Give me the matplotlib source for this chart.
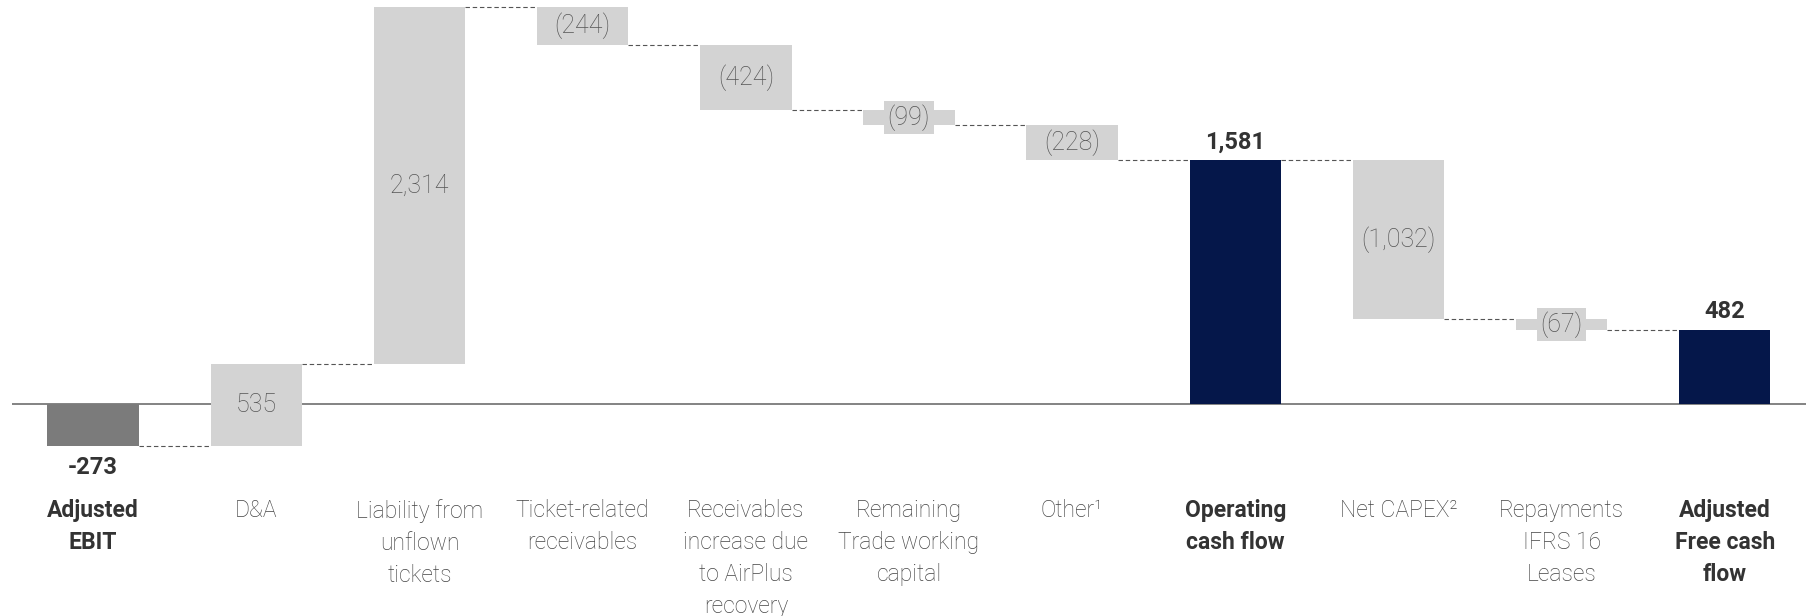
import numpy as np
import matplotlib
matplotlib.use('Agg')
import matplotlib.pyplot as plt

plt.rcParams['font.family'] = ['Roboto', 'DejaVu Sans']

# cash flow bridge, EUR m
categories = ['Adjusted\nEBIT', 'D&A', 'Liability from\nunflown\ntickets',
              'Ticket-related\nreceivables', 'Receivables\nincrease due\nto AirPlus\nrecovery',
              'Remaining\nTrade working\ncapital', 'Other\u00b9', 'Operating\ncash flow',
              'Net CAPEX\u00b2', 'Repayments\nIFRS 16\nLeases', 'Adjusted\nFree cash\nflow']
values = [-273, 535, 2314, -244, -424, -99, -228, 1581, -1032, -67, 482]
kinds = ['start', 'delta', 'delta', 'delta', 'delta', 'delta', 'delta', 'total',
         'delta', 'delta', 'total']

light = '#d3d3d3'
navy = '#05174a'
darkgray = '#7b7b7b'

fig = plt.figure(figsize=(18.1, 6.16), dpi=100)
ax = fig.add_axes([0.0064, 0.194, 0.9916, 0.806])

x = np.arange(len(values))
width = 0.56

running = 0
levels = []
for i, (v, k) in enumerate(zip(values, kinds)):
    if k == 'start':
        ax.bar(x[i], v, width, bottom=0, color=darkgray, zorder=2)
        ax.text(x[i], v - 65, '{:,}'.format(v), ha='center', va='top',
                fontsize=17, fontweight='bold', color='#333333')
        running = v
    elif k == 'total':
        ax.bar(x[i], v, width, bottom=0, color=navy, zorder=2)
        ax.text(x[i], v + 45, '{:,}'.format(v), ha='center', va='bottom',
                fontsize=17, fontweight='bold', color='#333333')
        running = v
    else:
        bottom = running if v > 0 else running + v
        ax.bar(x[i], abs(v), width, bottom=bottom, color=light, zorder=2)
        label = '{:,}'.format(v) if v > 0 else '({:,})'.format(-v)
        ax.text(x[i], bottom + abs(v) / 2, label, ha='center', va='center',
                fontsize=18, fontweight='light', color='#555555', zorder=4,
                bbox=dict(facecolor=light, edgecolor='none', pad=2.5))
        running = running + v
    levels.append(running)

# dashed connectors between bars
for i in range(len(values) - 1):
    ax.plot([x[i] + width / 2, x[i + 1] - width / 2], [levels[i], levels[i]],
            linestyle=(0, (4, 2.5)), color='#555555', linewidth=0.8, zorder=1)

ax.axhline(0, color='#6e6e6e', linewidth=1.2, zorder=1.5)

bold = {'Adjusted\nEBIT', 'Operating\ncash flow', 'Adjusted\nFree cash\nflow'}
for i, c in enumerate(categories):
    ax.text(x[i], -615, c, ha='center', va='top', fontsize=16.5, linespacing=1.5,
            fontweight='bold' if c in bold else 'light',
            color='#333333' if c in bold else '#444444', clip_on=False)

ax.set_xlim(-0.5, 10.5)
ax.set_ylim(-600, 2622)
ax.axis('off')

fig.savefig('out.png', dpi=100)
